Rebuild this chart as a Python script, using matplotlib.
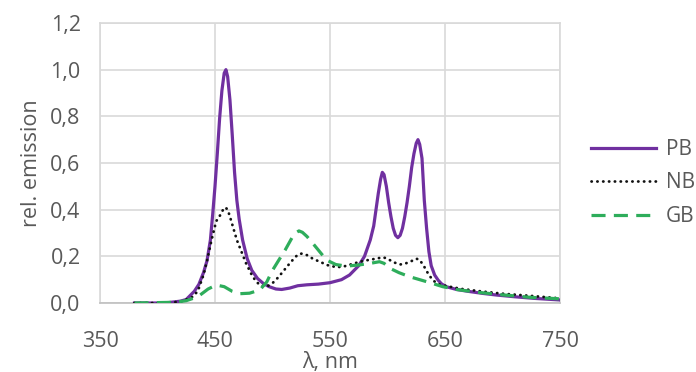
import matplotlib
matplotlib.use("Agg")
import matplotlib.pyplot as plt

plt.rcParams['font.family'] = ['Open Sans', 'DejaVu Sans']

# ---- data ----
pb_x = [380, 390, 400, 410, 420, 425, 428, 432, 436, 440, 443, 446, 448, 450, 452, 454, 456,
        458, 459.5, 461, 463, 465, 467, 469, 471, 474, 478, 482, 487, 492, 497, 503, 508, 515,
        522, 530, 540, 550, 560, 567, 575, 580, 585, 588, 590, 592, 594, 595.5, 597, 599, 601,
        603, 605, 607, 609, 611, 613, 615, 617, 619, 621, 623, 625, 626.5, 628, 630, 632, 634,
        636, 638, 641, 644, 647, 651, 660, 670, 683, 695, 710, 727, 740, 750]
pb_y = [0.0, 0.0, 0.0, 0.002, 0.008, 0.015, 0.03, 0.05, 0.08, 0.13, 0.18, 0.27, 0.38, 0.50,
        0.64, 0.79, 0.91, 0.985, 1.0, 0.97, 0.87, 0.72, 0.56, 0.44, 0.36, 0.27, 0.19, 0.14,
        0.105, 0.084, 0.07, 0.06, 0.058, 0.064, 0.074, 0.078, 0.081, 0.087, 0.10, 0.12, 0.16,
        0.20, 0.27, 0.33, 0.40, 0.47, 0.53, 0.56, 0.55, 0.50, 0.43, 0.37, 0.32, 0.29, 0.28,
        0.29, 0.32, 0.37, 0.43, 0.50, 0.58, 0.64, 0.685, 0.70, 0.68, 0.62, 0.44, 0.32, 0.22,
        0.16, 0.12, 0.098, 0.082, 0.07, 0.058, 0.05, 0.041, 0.034, 0.027, 0.02, 0.016, 0.013]

nb_x = [380, 400, 420, 430, 435, 440, 443, 447, 451, 455, 457, 459, 461, 463, 466, 469, 473,
        477, 482, 486, 490, 495, 500, 505, 510, 515, 520, 523, 526, 530, 535, 541, 548, 556,
        563, 570, 576, 582, 590, 596, 600, 605, 611, 616, 621, 625, 628, 632, 636, 640, 645,
        654, 665, 683, 700, 726, 750]
nb_y = [0.0, 0.0, 0.005, 0.025, 0.05, 0.12, 0.18, 0.27, 0.35, 0.38, 0.40, 0.41, 0.40, 0.37,
        0.32, 0.27, 0.22, 0.17, 0.12, 0.09, 0.075, 0.07, 0.085, 0.11, 0.14, 0.17, 0.198, 0.21,
        0.212, 0.205, 0.19, 0.177, 0.162, 0.153, 0.158, 0.168, 0.177, 0.183, 0.19, 0.196, 0.19,
        0.175, 0.165, 0.17, 0.18, 0.19, 0.185, 0.155, 0.12, 0.095, 0.08, 0.07, 0.06, 0.049,
        0.04, 0.03, 0.02]

gb_x = [380, 415, 425, 431, 437, 444, 451, 458, 465, 472, 480, 489, 495, 500, 505, 511, 517,
        520, 523, 526, 530, 535, 541, 547, 555, 564, 575, 585, 593, 597, 602, 610, 619, 628,
        637, 648, 660, 680, 700, 725, 750]
gb_y = [0.0, 0.003, 0.01, 0.02, 0.034, 0.06, 0.077, 0.07, 0.05, 0.04, 0.042, 0.056, 0.09,
        0.14, 0.18, 0.227, 0.28, 0.30, 0.309, 0.303, 0.285, 0.256, 0.22, 0.184, 0.165, 0.158,
        0.163, 0.17, 0.177, 0.17, 0.149, 0.13, 0.113, 0.10, 0.087, 0.07, 0.058, 0.045, 0.035,
        0.024, 0.018]

series_names = ['PB', 'NB', 'GB']
x_ticks = [350, 450, 550, 650, 750]
y_ticks = [0.0, 0.2, 0.4, 0.6, 0.8, 1.0, 1.2]
y_tick_labels = ['0,0', '0,2', '0,4', '0,6', '0,8', '1,0', '1,2']

# ---- figure ----
fig = plt.figure(figsize=(6.96, 3.72), dpi=100)
ax = fig.add_axes([100/696, 1-303/372, 460/696, 280/372])

txt = '#595959'
ax.plot(pb_x, pb_y, color='#7030A0', lw=2.3, label=series_names[0], zorder=3,
        solid_joinstyle='round')
ax.plot(nb_x, nb_y, color='#111111', lw=2.0, linestyle=(0, (0.1, 2.0)),
        dash_capstyle='round', label=series_names[1], zorder=4)
ax.plot(gb_x, gb_y, color='#2EAD5B', lw=2.3, linestyle=(0, (4.4, 2.6)),
        label=series_names[2], zorder=5)

ax.set_xlim(350, 750)
ax.set_ylim(0, 1.2)
ax.set_xticks(x_ticks)
ax.set_yticks(y_ticks)
ax.set_yticklabels(y_tick_labels)
ax.grid(True, color='#D9D9D9', lw=1.2, zorder=0)
ax.set_axisbelow(True)
for s in ['top', 'right', 'left']:
    ax.spines[s].set_color('#D9D9D9')
    ax.spines[s].set_linewidth(1.2)
ax.spines['bottom'].set_color('#BFBFBF')
ax.spines['bottom'].set_linewidth(1.2)
ax.tick_params(length=0, labelsize=15.5, colors=txt)
ax.tick_params(axis='x', pad=20)
ax.tick_params(axis='y', pad=14)

ax.set_xlabel('λ, nm', fontsize=15.5, color=txt, labelpad=0)
ax.set_ylabel('rel. emission', fontsize=15.5, color=txt, labelpad=6)

leg = fig.legend(loc='center left', bbox_to_anchor=(591/696, 1-183/372), frameon=False,
                 fontsize=15, handlelength=3.1, labelspacing=0.6, handletextpad=0.5,
                 borderaxespad=0, borderpad=0)
for t in leg.get_texts():
    t.set_color(txt)

fig.savefig('out.png', dpi=100)
